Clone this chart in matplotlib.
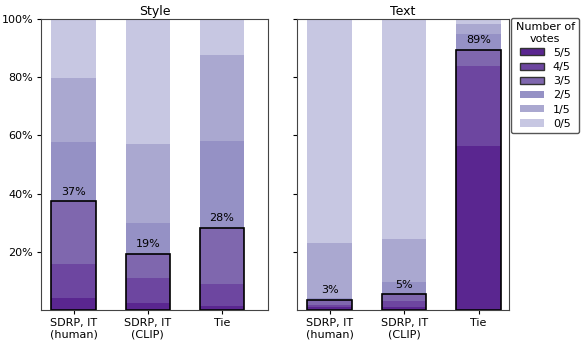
import numpy as np
import matplotlib
matplotlib.use("Agg")
import matplotlib.pyplot as plt
from matplotlib.patches import Patch

categories = ["SDRP, IT\n(human)", "SDRP, IT\n(CLIP)", "Tie"]
vote_levels = ["5/5", "4/5", "3/5", "2/5", "1/5", "0/5"]

# percent of prompts per vote level (bottom -> top: 5/5 ... 0/5)
style_5 = [4.0, 2.5, 1.5]
style_4 = [11.7, 8.5, 7.5]
style_3 = [21.7, 8.3, 19.3]
style_2 = [20.4, 10.7, 29.9]
style_1 = [22.0, 27.0, 29.4]
style_0 = [20.2, 43.0, 12.4]

text_5 = [1.0, 1.0, 56.4]
text_4 = [0.8, 2.0, 27.6]
text_3 = [1.6, 2.4, 5.4]
text_2 = [0.7, 4.2, 5.6]
text_1 = [19.0, 14.9, 3.3]
text_0 = [76.9, 75.5, 1.7]

colors = ["#5a2690", "#6d46a0", "#7f67ae", "#9591c5", "#aaa8d0", "#c7c7e2"]

panels = [
    ("Style", [style_5, style_4, style_3, style_2, style_1, style_0]),
    ("Text", [text_5, text_4, text_3, text_2, text_1, text_0]),
]

fig = plt.figure(figsize=(5.81, 3.43), dpi=100)
ax1 = fig.add_axes([41 / 581, 33 / 343, 227 / 581, 291 / 343])
ax2 = fig.add_axes([297 / 581, 33 / 343, 212 / 581, 291 / 343])
xlims = [(-0.44, 2.62), (-0.44, 2.41)]

x = np.arange(len(categories))
width = 0.6

for ax, (title, series), xl in zip([ax1, ax2], panels, xlims):
    bottom = np.zeros(len(categories))
    for vals, c in zip(series, colors):
        vals = np.array(vals)
        ax.bar(x, vals, width, bottom=bottom, color=c, linewidth=0)
        bottom += vals
    # majority (>= 3/5) outline
    maj = np.array(series[0]) + np.array(series[1]) + np.array(series[2])
    ax.bar(x, maj, width, fill=False, edgecolor="black", linewidth=1.2)
    for xi, m in zip(x, maj):
        ax.text(xi, m + 1.6, "{:.0f}%".format(np.floor(m)), ha="center",
                va="bottom", fontsize=8)
    ax.set_title(title, fontsize=9, pad=3)
    ax.set_xticks(x)
    ax.set_xticklabels(categories, fontsize=8)
    ax.set_xlim(*xl)
    ax.set_ylim(0, 100)
    ax.set_yticks([20, 40, 60, 80, 100])
    ax.tick_params(labelsize=8, length=3, pad=2.5)
    for s in ax.spines.values():
        s.set_edgecolor("#444444")

ax1.set_yticklabels(["20%", "40%", "60%", "80%", "100%"])
ax2.set_yticklabels([])

handles = []
for i, (lab, c) in enumerate(zip(vote_levels, colors)):
    if i < 3:
        handles.append(Patch(facecolor=c, edgecolor="#333333", linewidth=1, label=lab))
    else:
        handles.append(Patch(facecolor=c, edgecolor="none", label=lab))
leg = ax2.legend(handles=handles, title="Number of\nvotes", fontsize=8,
                 title_fontsize=8, loc="upper left", bbox_to_anchor=(1.01, 1.005),
                 borderaxespad=0, handlelength=2.2, handleheight=0.6,
                 labelspacing=0.38, framealpha=1, edgecolor="#555555",
                 fancybox=True)
leg.get_title().set_multialignment("center")

fig.savefig("out.png", dpi=100)
